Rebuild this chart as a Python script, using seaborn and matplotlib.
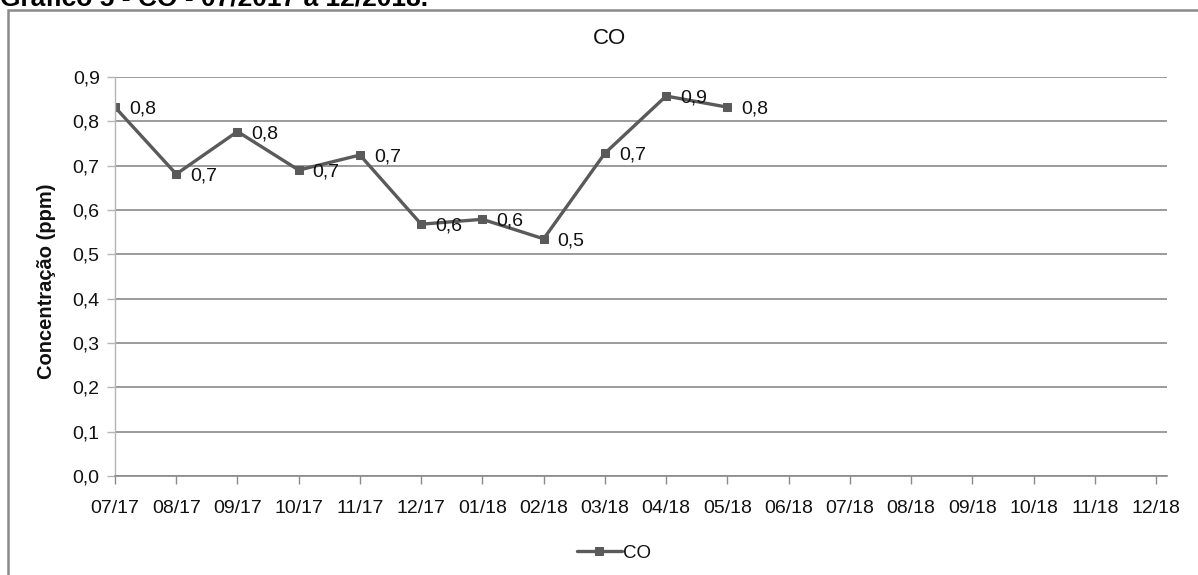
import numpy as np
import pandas as pd
import matplotlib
matplotlib.use("Agg")
import matplotlib.pyplot as plt
from matplotlib.patches import Rectangle
import seaborn as sns

# Monthly CO concentration (ppm), 07/2017 to 12/2018
months = ["07/17", "08/17", "09/17", "10/17", "11/17", "12/17",
          "01/18", "02/18", "03/18", "04/18", "05/18", "06/18",
          "07/18", "08/18", "09/18", "10/18", "11/18", "12/18"]
co_values = [0.832, 0.681, 0.777, 0.690, 0.724, 0.568,
             0.579, 0.535, 0.728, 0.857, 0.832]
y_ticks = [0.0, 0.1, 0.2, 0.3, 0.4, 0.5, 0.6, 0.7, 0.8, 0.9]

sns.set_theme(style="white")
plt.rcParams["font.family"] = ["Liberation Sans", "DejaVu Sans"]

W, H = 1198, 575
fig = plt.figure(figsize=(W / 100, H / 100), dpi=100)
ax = fig.add_axes([115 / W, 1 - 476 / H, (1167 - 115) / W, (476 - 77) / H])

df = pd.DataFrame({"pos": np.arange(len(co_values)), "CO": co_values})
line_color = "#5a5a5a"
sns.lineplot(data=df, x="pos", y="CO", ax=ax, color=line_color, linewidth=2.4,
             marker="s", markersize=5.5, markeredgecolor=line_color,
             markerfacecolor=line_color, label="CO")

# value labels to the right of each point
for i, v in enumerate(co_values):
    ax.annotate(f"{v:.1f}".replace(".", ","), (i, v), xytext=(10, -1.5),
                textcoords="offset points", ha="left", va="center",
                fontsize=14, color="#111111")

ax.set_xlim(0, 17 + 11 / 61.24)
ax.set_ylim(0, 0.9)
ax.set_xticks(np.arange(len(months)))
ax.set_xticklabels(months)
ax.set_yticks(y_ticks)
ax.set_yticklabels([f"{t:.1f}".replace(".", ",") for t in y_ticks])
ax.yaxis.grid(True, color="#8a8a8a", linewidth=1.2)
ax.set_axisbelow(True)

for side in ["top", "right"]:
    ax.spines[side].set_visible(False)
ax.spines["left"].set_color("#b5b5b5")
ax.spines["left"].set_linewidth(1.0)
ax.spines["bottom"].set_color("#8a8a8a")
ax.spines["bottom"].set_linewidth(1.2)

ax.tick_params(axis="x", direction="out", length=6, width=1.0, color="#8a8a8a",
               labelsize=14, pad=11, labelcolor="#111111", bottom=True)
ax.tick_params(axis="y", direction="out", length=6, width=1.0, color="#b5b5b5",
               labelsize=14, pad=5, labelcolor="#111111", left=True)

ax.set_xlabel("")
ax.set_ylabel("Concentração (ppm)", fontsize=14.5, fontweight="bold",
              color="#111111")
ax.yaxis.set_label_coords(-(115 - 56) / (1167 - 115), (476 - 281) / (476 - 77))

ax.legend(loc="center", bbox_to_anchor=(614 / W, 1 - 553 / H),
          bbox_transform=fig.transFigure, frameon=False, fontsize=13.5,
          handlelength=2.4, handletextpad=0.1, labelcolor="#111111")

fig.text(610 / W, 1 - 38 / H, "CO", ha="center", va="center",
         fontsize=16, color="#111111")

# chart frame
fig.patches.append(Rectangle((8 / W, -0.05), 1.1, 1 - 10 / H + 0.05,
                             transform=fig.transFigure, fill=False,
                             edgecolor="#8a8a8a", linewidth=1.8))

fig.text(0.0, 1 - 5 / H, "Gráfico 5 - CO - 07/2017 a 12/2018.", ha="left",
         va="baseline", fontsize=19, fontweight="bold", color="#000000")

fig.savefig("out.png", dpi=100)
